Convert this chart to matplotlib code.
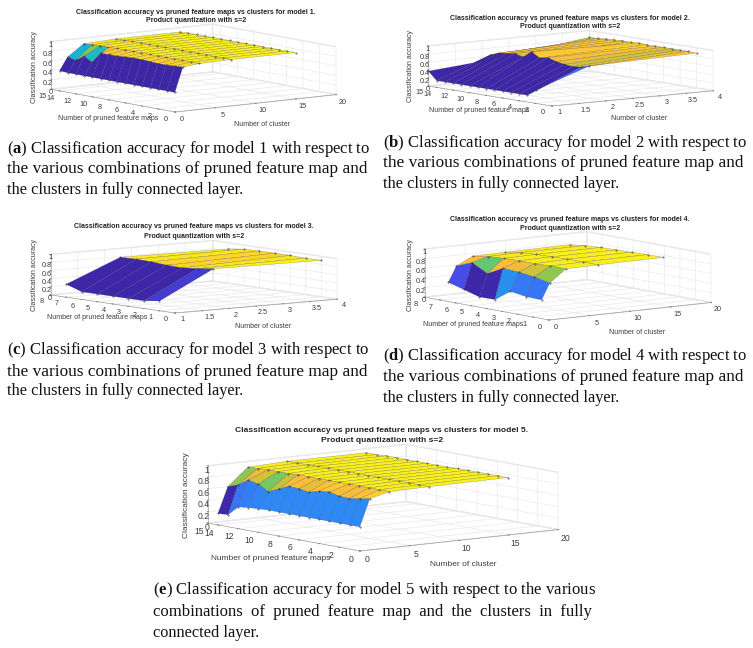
import numpy as np
import matplotlib
matplotlib.use('Agg')
import matplotlib.pyplot as plt
from matplotlib.colors import LinearSegmentedColormap
from mpl_toolkits.mplot3d import proj3d

plt.rcParams['font.family'] = ['Liberation Sans', 'DejaVu Sans']
plt.rcParams['grid.color'] = '#e8e8e8'
plt.rcParams['grid.linewidth'] = 0.45
plt.rcParams['mathtext.fontset'] = 'custom'
plt.rcParams['mathtext.rm'] = 'Liberation Serif'
plt.rcParams['mathtext.bf'] = 'Liberation Serif:bold'

W, H = 753, 648

parula = LinearSegmentedColormap.from_list('parula', [
    (0.2422, 0.1504, 0.6603), (0.2810, 0.3228, 0.9579), (0.1786, 0.5289, 0.9682),
    (0.0689, 0.6948, 0.8394), (0.2161, 0.7843, 0.5923), (0.6720, 0.7793, 0.2227),
    (0.9970, 0.7359, 0.2199), (0.9700, 0.9100, 0.1300), (0.9769, 0.9839, 0.0805)])

# model 1, one list per cluster count, pruned maps 1..15
pruned_a = list(range(1, 16))
clusters_a = [1, 2, 4, 8, 16]
acc_a_1 = [.36, .36, .36, .36, .36, .36, .36, .36, .36, .36, .36, .36, .36, .36, .37]
acc_a_2 = [.87, .86, .85, .85, .86, .87, .87, .86, .85, .85, .84, .62, .72, .60, .64]
acc_a_4 = [.91, .91, .91, .91, .91, .91, .91, .91, .91, .91, .91, .90, .90, .89, .88]
acc_a_8 = [.92, .92, .92, .92, .92, .92, .92, .92, .92, .92, .92, .92, .92, .91, .91]
acc_a_16 = [.92, .92, .92, .92, .92, .92, .92, .92, .92, .92, .92, .92, .92, .92, .91]

# model 2
pruned_b = list(range(2, 16))
clusters_b = [1, 2, 4]
acc_b_1 = [.33, .17, .17, .17, .17, .17, .17, .17, .17, .17, .17, .17, .17, .37]
acc_b_2 = [.80, .74, .72, .74, .78, .84, .80, .92, .76, .81, .78, .76, .68, .49]
acc_b_4 = [.87, .88, .88, .88, .88, .88, .88, .89, .88, .88, .87, .86, .84, .83]

# model 3
pruned_c = list(range(1, 8))
clusters_c = [1, 2, 4]
acc_c_1 = [.24, .19, .19, .19, .19, .19, .32]
acc_c_2 = [.92, .87, .83, .84, .87, .88, .87]
acc_c_4 = [.90, .90, .91, .91, .91, .90, .85]

# model 4
pruned_d = list(range(1, 8))
clusters_d = [1, 2, 4, 8, 16]
acc_d_1 = [.34, .35, .40, .17, .165, .26, .35]
acc_d_2 = [.67, .74, .78, .80, .63, .80, .67]
acc_d_4 = [.93, .93, .92, .92, .91, .89, .84]
acc_d_8 = [.94, .94, .94, .93, .92, .90, .85]
acc_d_16 = [.95, .95, .94, .93, .92, .90, .86]

# model 5
pruned_e = list(range(1, 16))
clusters_e = [1, 2, 4, 8, 16]
acc_e_1 = [.37, .37, .37, .37, .37, .37, .37, .37, .37, .37, .36, .35, .33, .16, .15]
acc_e_2 = [.84, .81, .78, .79, .83, .81, .76, .79, .80, .72, .64, .74, .78, .66, .60]
acc_e_4 = [.93, .93, .93, .93, .93, .93, .93, .93, .93, .93, .92, .92, .92, .91, .90]
acc_e_8 = [.94, .94, .94, .94, .94, .94, .94, .94, .94, .94, .94, .94, .93, .93, .93]
acc_e_16 = [.95, .95, .95, .95, .95, .95, .94, .94, .94, .94, .94, .94, .94, .93, .93]

ticks_z = [0, .2, .4, .6, .8, 1]
ticks_z_labels = ['0', '0.2', '0.4', '0.6', '0.8', '1']
ticks_x_20 = [0, 5, 10, 15, 20]
ticks_x_4 = [1, 1.5, 2, 2.5, 3, 3.5, 4]
ticks_x_4_labels = ['1', '1.5', '2', '2.5', '3', '3.5', '4']
ticks_y_15 = [0, 2, 4, 6, 8, 10, 12, 14, 15]
ticks_y_8 = list(range(0, 9))


def put(x, y, s, **kw):
    kw.setdefault('ha', 'center')
    kw.setdefault('va', 'center')
    return fig.text(x / W, 1 - y / H, s, **kw)


def corner_px(ax, x, y, z):
    xs, ys, _ = proj3d.proj_transform(x, y, z, ax.get_proj())
    return ax.transData.transform((xs, ys))


def fit_axes(ax, front, right, xlim, ylim):
    # ortho view is linear: scale the square axes, then shift it onto the corners
    fig.canvas.draw()
    a = corner_px(ax, xlim[0], ylim[0], 0)
    b = corner_px(ax, xlim[1], ylim[0], 0)
    p = ax.get_position()
    s = (right[0] - front[0]) / (b[0] - a[0])
    ax.set_position([p.x0, p.y0, p.width * s, p.height * s])
    fig.canvas.draw()
    a = corner_px(ax, xlim[0], ylim[0], 0)
    p = ax.get_position()
    dx = (front[0] - a[0]) / W
    dy = ((H - front[1]) - a[1]) / H
    ax.set_position([p.x0 + dx, p.y0 + dy, p.width, p.height])


def panel(x, y, cols, xlim, ylim, xticks, xlabels, yticks, elev, zr, front, right, tick_fs=5.2):
    ax = fig.add_axes([0.3, 0.3, 0.4, 0.4 * W / H], projection='3d')
    ax.set_proj_type('ortho')
    ax.view_init(elev=elev, azim=-127.5)
    ax.set_box_aspect((1, 1, zr))
    ax.set_facecolor('none')

    X, Y = np.meshgrid(x, y)
    Z = np.array(cols).T
    norm = (Z - Z.min()) / (Z.max() + .06 - Z.min())
    ax.plot_surface(X, Y, Z, facecolors=parula(norm), edgecolor=(.2, .2, .28, .6),
                    linewidth=0.22, shade=False, rstride=1, cstride=1, antialiased=True)
    ax.plot(X.ravel(), Y.ravel(), Z.ravel(), ls='', marker='.', ms=0.7, color='#333333', zorder=10)

    ax.set_xlim(xlim)
    ax.set_ylim(ylim)
    ax.set_zlim(0, 1)
    ax.set_xticks(xticks)
    ax.set_xticklabels(xlabels)
    ax.set_yticks(yticks)
    ax.set_zticks(ticks_z)
    ax.set_zticklabels(ticks_z_labels, ha='right')
    ax.tick_params(labelsize=tick_fs, labelcolor='#3c3c3c', color='#888888', pad=-2, width=0.3)
    ax.zaxis.set_tick_params(pad=-8.5)
    for axis in (ax.xaxis, ax.yaxis, ax.zaxis):
        axis.set_pane_color((1, 1, 1, 1))
        axis.pane.set_edgecolor('#e8e8e8')
        axis.line.set_color('#909090')
        axis.line.set_linewidth(0.4)
        axis._axinfo['tick']['inward_factor'] = 0.05
        axis._axinfo['tick']['outward_factor'] = 0.02
    fit_axes(ax, front, right, xlim, ylim)
    return ax


def caption(x, ys, lines, sizes):
    for yy, s, fs in zip(ys, lines, sizes):
        put(x, yy, s, ha='left', family='Liberation Serif', fontsize=fs, color='#111111')


fig = plt.figure(figsize=(W / 100, H / 100), dpi=100)

title_2 = 'Product quantization with s=2'
title_1 = 'Classification accuracy vs pruned feature maps vs clusters for model %d.'
xlab, ylab, zlab = 'Number of cluster', 'Number of pruned feature maps', 'Classification accuracy'

panel(clusters_a, pruned_a, [acc_a_1, acc_a_2, acc_a_4, acc_a_8, acc_a_16], (0, 20), (0, 15),
      ticks_x_20, [str(t) for t in ticks_x_20], ticks_y_15, 8.1, .238, (175, 112), (336, 94))
panel(clusters_b, pruned_b, [acc_b_1, acc_b_2, acc_b_4], (1, 4), (0, 15),
      ticks_x_4, ticks_x_4_labels, ticks_y_15, 7.1, .2, (552, 106), (713, 90))
panel(clusters_c, pruned_c, [acc_c_1, acc_c_2, acc_c_4], (1, 4), (0, 8),
      ticks_x_4, ticks_x_4_labels, ticks_y_8, 6.4, .2, (175, 313), (337, 298))
panel(clusters_d, pruned_d, [acc_d_1, acc_d_2, acc_d_4, acc_d_8, acc_d_16], (0, 20), (0, 8),
      ticks_x_20, [str(t) for t in ticks_x_20], ticks_y_8, 8.1, .238, (549, 320), (711, 303))
panel(clusters_e, pruned_e, [acc_e_1, acc_e_2, acc_e_4, acc_e_8, acc_e_16], (0, 20), (0, 15),
      ticks_x_20, [str(t) for t in ticks_x_20], ticks_y_15, 8.1, .232, (360, 551), (558, 530), tick_fs=6.2)

# titles and axis labels, one row per panel
title_pos = [(196, 12, 21, 1), (570, 18, 27, 2), (194, 226, 236, 3), (570, 220, 229, 4), (382, 430, 441, 5)]
for tx, y1, y2, m in title_pos:
    fs = 6.1 if m == 5 else 5.0
    put(tx, y1, title_1 % m, fontsize=fs, fontweight='bold', color='#222222')
    put(tx, y2, title_2, fontsize=fs, fontweight='bold', color='#222222')

label_pos = [((35, 67), (108, 118), (262, 124), 5.0), ((411, 66), (479, 111), (639, 118), 5.0),
             ((35, 275), (97, 317), (263, 326), 5.0), ((411, 275), (473, 324), (637, 332), 5.0),
             ((187, 495), (271, 558), (463, 565), 6.0)]
for zp, yp, xp, fs in label_pos:
    put(zp[0], zp[1], zlab, rotation=90, fontsize=fs, color='#3c3c3c')
    put(yp[0], yp[1], ylab, fontsize=fs, color='#3c3c3c')
    put(xp[0], xp[1], xlab, fontsize=fs, color='#3c3c3c')

tail = ' with respect to'
body2 = 'the various combinations of pruned feature map and'
body3 = 'the clusters in fully connected layer.'
sizes = (11.95, 12.4, 11.7)
caption(7, (149, 169, 190), [r'($\mathbf{a}$) Classification accuracy for model 1' + tail, body2, body3], sizes)
caption(383, (143, 163, 184), [r'($\mathbf{b}$) Classification accuracy for model 2' + tail, body2, body3], sizes)
caption(7, (350, 372, 391), [r'($\mathbf{c}$) Classification accuracy for model 3' + tail, body2, body3], sizes)
caption(383, (356, 377, 398), [r'($\mathbf{d}$) Classification accuracy for model 4' + tail, body2, body3], sizes)
caption(153, (590, 612, 633), [r'($\mathbf{e}$) Classification accuracy for model 5 with respect to the various',
                               'combinations  of  pruned  feature  map  and  the  clusters  in  fully',
                               'connected layer.'], (12.05, 11.95, 11.7))

fig.savefig('out.png', dpi=100)
